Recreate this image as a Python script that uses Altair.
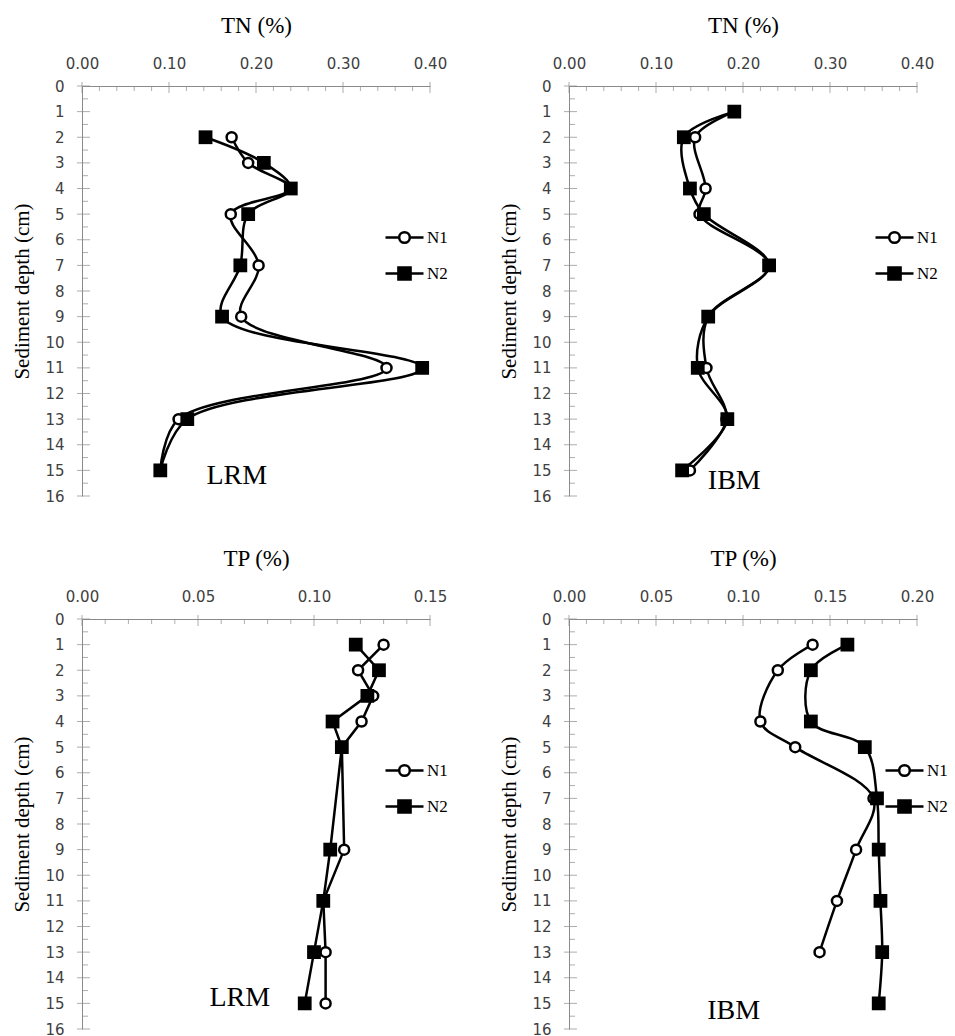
import altair as alt
import pandas as pd

# ---------------- data ----------------
series_names = ["N1", "N2"]

# Top-left: TN, LRM
lrm_tn_depth = [2, 3, 4, 5, 7, 9, 11, 13, 15]
lrm_tn_n1 = [0.172, 0.191, 0.240, 0.171, 0.203, 0.183, 0.350, 0.111, 0.090]
lrm_tn_n2 = [0.142, 0.209, 0.240, 0.191, 0.182, 0.161, 0.391, 0.121, 0.090]

# Top-right: TN, IBM
ibm_tn_depth = [1, 2, 4, 5, 7, 9, 11, 13, 15]
ibm_tn_n1 = [0.190, 0.145, 0.157, 0.150, 0.230, 0.160, 0.158, 0.181, 0.139]
ibm_tn_n2 = [0.190, 0.132, 0.139, 0.155, 0.230, 0.160, 0.148, 0.182, 0.130]

# Bottom-left: TP, LRM
lrm_tp_depth = [1, 2, 3, 4, 5, 9, 11, 13, 15]
lrm_tp_n1 = [0.130, 0.119, 0.1255, 0.1205, 0.112, 0.113, 0.104, 0.105, 0.105]
lrm_tp_n2 = [0.118, 0.128, 0.123, 0.108, 0.112, 0.107, 0.104, 0.100, 0.096]

# Bottom-right: TP, IBM
ibm_tp_n1_depth = [1, 2, 4, 5, 7, 9, 11, 13]
ibm_tp_n1 = [0.140, 0.120, 0.110, 0.130, 0.175, 0.165, 0.154, 0.144]
ibm_tp_n2_depth = [1, 2, 4, 5, 7, 9, 11, 13, 15]
ibm_tp_n2 = [0.160, 0.139, 0.139, 0.170, 0.177, 0.178, 0.179, 0.180, 0.178]

# axis ticks
tn_major = [0.0, 0.1, 0.2, 0.3, 0.4]
tn_minor = [0.02, 0.04, 0.06, 0.08, 0.12, 0.14, 0.16, 0.18, 0.22, 0.24, 0.26,
            0.28, 0.32, 0.34, 0.36, 0.38]
tp_lrm_major = [0.0, 0.05, 0.10, 0.15]
tp_lrm_minor = [0.01, 0.02, 0.03, 0.04, 0.06, 0.07, 0.08, 0.09, 0.11, 0.12,
                0.13, 0.14]
tp_ibm_major = [0.0, 0.05, 0.10, 0.15, 0.20]
tp_ibm_minor = [0.01, 0.02, 0.03, 0.04, 0.06, 0.07, 0.08, 0.09, 0.11, 0.12,
                0.13, 0.14, 0.16, 0.17, 0.18, 0.19]
depth_major = [0, 1, 2, 3, 4, 5, 6, 7, 8, 9, 10, 11, 12, 13, 14, 15, 16]
depth_minor = [0.5, 1.5, 2.5, 3.5, 4.5, 5.5, 6.5, 7.5, 8.5, 9.5, 10.5, 11.5,
               12.5, 13.5, 14.5, 15.5]

# ---------------- styling ----------------
W, H = 348, 410
AXIS_GREY = "#8a8a8a"
LABEL_GREY = "#404040"
SANS = "DejaVu Sans"
SERIF = "Liberation Serif"

N1_PATH = ("M-1,0H-0.28M0.28,0H1M0.28,0A0.28,0.28,0,1,1,-0.28,0"
           "A0.28,0.28,0,1,1,0.28,0Z")
N2_PATH = "M-1,0H1M-0.32,-0.32H0.32V0.32H-0.32Z"


def panel(d1, v1, d2, v2, xmax, xmajor, xminor, xtitle, site, site_xy,
          interp, legxy):
    df1 = pd.DataFrame({"depth": d1, "value": v1})
    df2 = pd.DataFrame({"depth": d2, "value": v2})

    xscale = alt.Scale(domain=[0, xmax], nice=False, zero=False)
    yscale = alt.Scale(domain=[0, 16], reverse=True, nice=False, zero=False)
    xaxis = alt.Axis(orient="top", values=xmajor, format=".2f", ticks=False,
                     grid=False, labelPadding=15, title=xtitle,
                     titlePadding=19)
    yaxis = alt.Axis(orient="left", values=depth_major, format="d",
                     ticks=False, grid=False, labelPadding=18,
                     title="Sediment depth (cm)", titlePadding=12)
    X = alt.X("value:Q", scale=xscale, axis=xaxis)
    Y = alt.Y("depth:Q", scale=yscale, axis=yaxis)

    # axis tick marks (major cross the axis line, minor point inward)
    xt_major = alt.Chart(pd.DataFrame({"value": xmajor})).mark_tick(
        orient="vertical", color=AXIS_GREY, thickness=1, size=11
    ).encode(x=X, y=alt.value(1.5))
    xt_minor = alt.Chart(pd.DataFrame({"value": xminor})).mark_tick(
        orient="vertical", color=AXIS_GREY, thickness=1, size=5
    ).encode(x=X, y=alt.value(2.5))
    yt_major = alt.Chart(pd.DataFrame({"depth": depth_major})).mark_tick(
        orient="horizontal", color=AXIS_GREY, thickness=1, size=13
    ).encode(y=Y, x=alt.value(1.5))
    yt_minor = alt.Chart(pd.DataFrame({"depth": depth_minor})).mark_tick(
        orient="horizontal", color=AXIS_GREY, thickness=1, size=6
    ).encode(y=Y, x=alt.value(3))

    line1 = alt.Chart(df1).mark_line(
        color="black", strokeWidth=2.5, interpolate=interp
    ).encode(x=X, y=Y, order=alt.Order("depth:Q"))
    pts1 = alt.Chart(df1).mark_point(
        shape="circle", filled=True, fill="white", stroke="black",
        strokeWidth=2.5, size=100, opacity=1
    ).encode(x=X, y=Y)
    line2 = alt.Chart(df2).mark_line(
        color="black", strokeWidth=2.5, interpolate=interp
    ).encode(x=X, y=Y, order=alt.Order("depth:Q"))
    pts2 = alt.Chart(df2).mark_point(
        shape="square", filled=True, color="black", size=190, opacity=1
    ).encode(x=X, y=Y)

    site_df = pd.DataFrame({"value": [site_xy[0]], "depth": [site_xy[1]],
                            "label": [site]})
    site_txt = alt.Chart(site_df).mark_text(
        font=SERIF, fontSize=28, color="black"
    ).encode(x=X, y=Y, text="label:N")

    # legend: entries drawn by the library legend; the carrier points lie
    # outside the x domain and are clipped away
    leg = alt.Legend(orient="none", legendX=legxy[0], legendY=legxy[1],
                     title=None, padding=0, rowPadding=5, symbolSize=1444,
                     symbolStrokeWidth=2.5, symbolStrokeColor="black",
                     labelFont=SERIF, labelFontSize=17, labelColor="black",
                     labelOffset=2, symbolOpacity=1)
    leg_df = pd.DataFrame({"series": series_names, "value": [-1.0, -1.0],
                           "depth": [8, 8]})
    legend_layer = alt.Chart(leg_df).mark_point(
        filled=True, strokeWidth=2.5, opacity=1, clip=True
    ).encode(
        x=X, y=Y,
        shape=alt.Shape("series:N", scale=alt.Scale(
            domain=series_names, range=[N1_PATH, N2_PATH]), legend=leg),
        fill=alt.Fill("series:N", scale=alt.Scale(
            domain=series_names, range=["white", "black"]), legend=leg),
        stroke=alt.Stroke("series:N", scale=alt.Scale(
            domain=series_names, range=["black", "black"]), legend=leg),
    )

    return alt.layer(
        xt_major, xt_minor, yt_major, yt_minor,
        line1, pts1, line2, pts2, site_txt, legend_layer
    ).properties(width=W, height=H)


p1 = panel(lrm_tn_depth, lrm_tn_n1, lrm_tn_depth, lrm_tn_n2, 0.4, tn_major,
           tn_minor, "TN (%)", "LRM", (0.178, 15.2), "catmull-rom", (302, 131))
p2 = panel(ibm_tn_depth, ibm_tn_n1, ibm_tn_depth, ibm_tn_n2, 0.4, tn_major,
           tn_minor, "TN (%)", "IBM", (0.19, 15.4), "catmull-rom", (305, 131))
p3 = panel(lrm_tp_depth, lrm_tp_n1, lrm_tp_depth, lrm_tp_n2, 0.15,
           tp_lrm_major, tp_lrm_minor, "TP (%)", "LRM", (0.068, 14.8),
           "linear", (302, 131))
p4 = panel(ibm_tp_n1_depth, ibm_tp_n1, ibm_tp_n2_depth, ibm_tp_n2, 0.20,
           tp_ibm_major, tp_ibm_minor, "TP (%)", "IBM", (0.0946, 15.3),
           "catmull-rom", (315, 131))

chart = alt.concat(
    p1, p2, p3, p4, columns=2, spacing={"row": 123, "column": 139},
    bounds="flush"
).resolve_scale(
    x="independent", y="independent", shape="independent",
    fill="independent", stroke="independent"
).resolve_legend(
    shape="independent", fill="independent", stroke="independent"
).properties(
    padding={"left": 11, "top": 14, "right": 5, "bottom": 0},
    background="white"
).configure_view(
    stroke=None
).configure_axis(
    domainColor=AXIS_GREY, domainWidth=1,
    labelFont=SANS, labelFontSize=15, labelColor=LABEL_GREY,
    labelFlush=False, labelOverlap=False,
    titleFont=SERIF, titleFontSize=23, titleFontWeight="normal",
    titleColor="black"
).configure_axisLeft(
    titleFontSize=21
)

chart.save("out.html", embed_options={"renderer": "svg", "actions": False})
